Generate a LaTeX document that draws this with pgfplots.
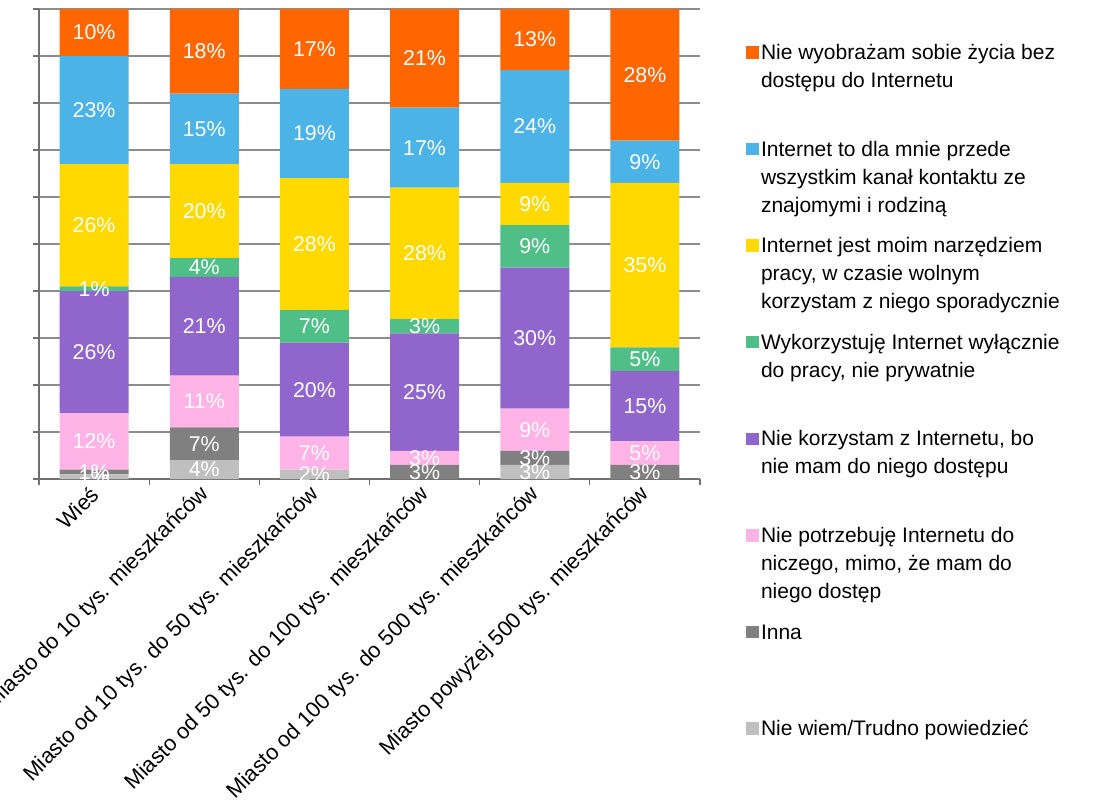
\documentclass[border=0pt]{standalone}
\usepackage{pgfplots}
\pgfplotsset{compat=1.18}
\usepackage{pgfplotstable}
\usepackage{fontspec}
\setmainfont{Liberation Sans}
\definecolor{cBez}{HTML}{FF6600}
\definecolor{cKan}{HTML}{4BB3E6}
\definecolor{cNar}{HTML}{FFD900}
\definecolor{cWyl}{HTML}{50BF87}
\definecolor{cNk}{HTML}{9066CC}
\definecolor{cNp}{HTML}{FFB3E6}
\definecolor{cInna}{HTML}{808080}
\definecolor{cNw}{HTML}{BFBFBF}
\definecolor{axgray}{HTML}{707070}
\definecolor{grgray}{HTML}{8C8C8C}

\pgfplotstableread{
x nw inna np nk wy nar kan bez
0 1 1 12 26 1 26 23 10
1 4 7 11 21 4 20 15 18
2 2 0 7 20 7 28 19 17
3 0 3 3 25 3 28 17 21
4 3 3 9 30 9 9 24 13
5 0 3 5 15 5 35 9 28
}\data

\newcommand{\legtxt}[1]{\parbox[t]{230pt}{\strut #1}}

\pgfplotsset{
  seg/.style={
    fill=#1, draw=none,
    point meta=explicit symbolic,
    nodes near coords={\ifnum\pgfplotspointmeta=0 \else\pgfplotspointmeta\%\fi},
    every node near coord/.style={anchor=center, text=white, inner sep=0pt,
      font=\fontsize{10.7}{12}\selectfont},
    legend image code/.code={\fill[fill=#1] (0pt,0.4pt) rectangle (6.3pt,6.7pt);},
  },
}

\begin{document}
\begin{tikzpicture}[font=\fontsize{10.5}{12}\selectfont]
\begin{axis}[
  at={(0pt,0pt)}, anchor=south west,
  scale only axis, width=330.5pt, height=235pt,
  ybar stacked, bar width=34.5pt,
  xmin=-0.5, xmax=5.5, ymin=0, ymax=100,
  enlargelimits=false,
  axis x line*=bottom, axis y line*=left,
  axis line style={color=axgray, line width=0.6pt},
  ytick={0,10,...,100}, yticklabels={},
  ymajorgrids, major grid style={color=grgray, line width=0.6pt},
  xtick={0,...,5},
  xticklabels={Wieś, Miasto do 10 tys. mieszkańców, Miasto od 10 tys. do 50 tys. mieszkańców, Miasto od 50 tys. do 100 tys. mieszkańców, Miasto od 100 tys. do 500 tys. mieszkańców, Miasto powyżej 500 tys. mieszkańców},
  minor xtick={-0.5,0.5,1.5,2.5,3.5,4.5,5.5},
  tick align=outside, major tick length=3pt, minor tick length=3pt,
  tick style={color=axgray, line width=0.6pt},
  major x tick style={draw=none},
  xticklabel style={rotate=45, anchor=east, xshift=1.8pt, yshift=-2.4pt, font=\fontsize{10.9}{12}\selectfont},
  legend style={at={(1.0696,0.9343)}, anchor=north west, draw=none, fill=none,
    inner sep=0pt, outer sep=0pt, row sep=0pt, column sep=1.2pt,
    nodes={inner sep=0pt, outer sep=0pt, text height=9.8pt, text depth=38.5pt}, cells={anchor=base west},
    font=\fontsize{10.5}{14}\selectfont},
  reverse legend,
]
\addplot[seg=cNw] table[x=x, y=nw, meta=nw]{\data};
\addlegendentry{\legtxt{Nie wiem/Trudno powiedzieć}}
\addplot[seg=cInna] table[x=x, y=inna, meta=inna]{\data};
\addlegendentry{\legtxt{Inna}}
\addplot[seg=cNp] table[x=x, y=np, meta=np]{\data};
\addlegendentry{\legtxt{Nie potrzebuję Internetu do\\niczego, mimo, że mam do\\niego dostęp}}
\addplot[seg=cNk] table[x=x, y=nk, meta=nk]{\data};
\addlegendentry{\legtxt{Nie korzystam z Internetu, bo\\nie mam do niego dostępu}}
\addplot[seg=cWyl] table[x=x, y=wy, meta=wy]{\data};
\addlegendentry{\legtxt{Wykorzystuję Internet wyłącznie\\do pracy, nie prywatnie}}
\addplot[seg=cNar] table[x=x, y=nar, meta=nar]{\data};
\addlegendentry{\legtxt{Internet jest moim narzędziem\\pracy, w czasie wolnym\\korzystam z niego sporadycznie}}
\addplot[seg=cKan] table[x=x, y=kan, meta=kan]{\data};
\addlegendentry{\legtxt{Internet to dla mnie przede\\wszystkim kanał kontaktu ze\\znajomymi i rodziną}}
\addplot[seg=cBez] table[x=x, y=bez, meta=bez]{\data};
\addlegendentry{\legtxt{Nie wyobrażam sobie życia bez\\dostępu do Internetu}}
\end{axis}
\pgfresetboundingbox
\path[use as bounding box] (-19.5pt,-160.5pt) rectangle (533.5pt,239.5pt);
\end{tikzpicture}
\end{document}
